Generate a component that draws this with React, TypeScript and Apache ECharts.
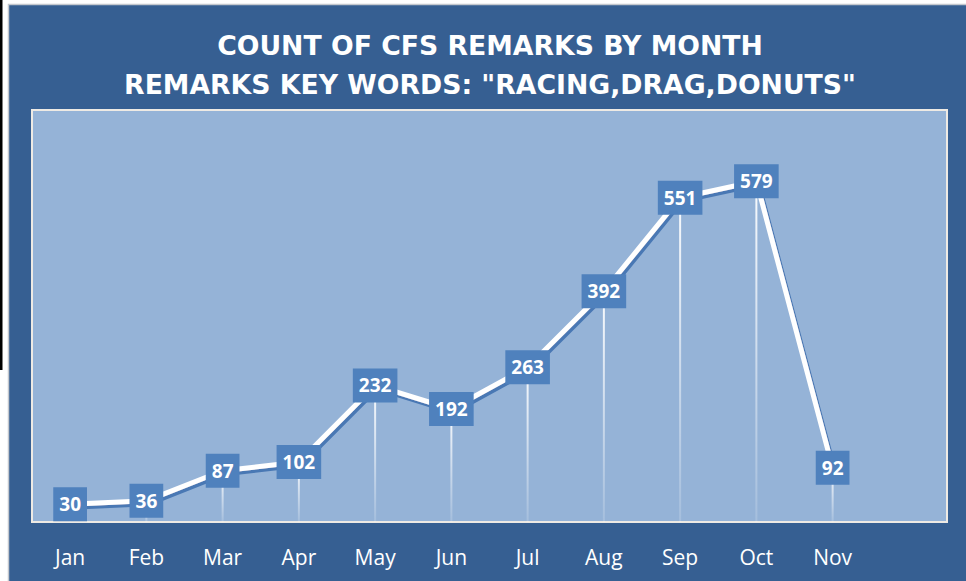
import React, { useEffect, useRef } from "react";
import * as echarts from "echarts";

const months = ["Jan", "Feb", "Mar", "Apr", "May", "Jun", "Jul", "Aug", "Sep", "Oct", "Nov", ""];
const counts = [30, 36, 87, 102, 232, 192, 263, 392, 551, 579, 92];
const titleLines = ["COUNT OF CFS REMARKS BY MONTH", 'REMARKS KEY WORDS: "RACING,DRAG,DONUTS"'];

export default function App() {
  const ref = useRef<HTMLDivElement>(null);
  useEffect(() => {
    if (!ref.current) return;
    const chart = echarts.init(ref.current, null, { renderer: "svg" });
    const font = "'Open Sans', 'Noto Sans', sans-serif";
    chart.setOption({
      animation: false,
      backgroundColor: "#ffffff",
      graphic: [
        { type: "rect", z: -100, shape: { x: 0, y: 0, width: 2.5, height: 370 }, style: { fill: "#000000" } },
        {
          type: "rect",
          z: -100,
          shape: { x: 8.5, y: 4.5, width: 980, height: 600 },
          style: { fill: "#365F92", stroke: "#C4C8CE", lineWidth: 1.5 },
        },
      ],
      title: {
        text: titleLines.join("\n"),
        left: 485,
        top: 21,
        textAlign: "center",
        textStyle: {
          color: "#ffffff",
          fontFamily: "'DejaVu Sans', sans-serif",
          fontWeight: "bold",
          fontSize: 26.7,
          lineHeight: 39,
        },
      },
      grid: {
        left: 32,
        right: 19,
        top: 110,
        bottom: 59,
        show: true,
        backgroundColor: "#95B3D7",
        borderColor: "#EEEAE4",
        borderWidth: 2,
      },
      xAxis: {
        type: "category",
        data: months,
        boundaryGap: true,
        axisLine: { show: false },
        axisTick: { show: false },
        axisLabel: { color: "#ffffff", fontFamily: font, fontSize: 21, margin: 24 },
        splitLine: { show: false },
      },
      yAxis: {
        type: "value",
        min: 0,
        max: 700,
        show: false,
        splitLine: { show: false },
      },
      series: [
        {
          type: "bar",
          data: counts,
          barWidth: 2,
          z: 1,
          itemStyle: {
            color: new echarts.graphic.LinearGradient(0, 0, 0, 1, [
              { offset: 0, color: "rgba(255,255,255,0.95)" },
              { offset: 1, color: "rgba(255,255,255,0.15)" },
            ]),
          },
        },
        {
          type: "line",
          data: counts,
          z: 5,
          symbol: "circle",
          symbolSize: 1,
          itemStyle: { color: "#ffffff" },
          lineStyle: {
            color: "#ffffff",
            width: 5,
            shadowColor: "#4A78B4",
            shadowOffsetX: 2,
            shadowOffsetY: 3,
            shadowBlur: 0,
          },
          label: {
            show: true,
            position: "inside",
            color: "#ffffff",
            fontFamily: font,
            fontWeight: "bold",
            fontSize: 19,
            lineHeight: 20,
            backgroundColor: "#4F81BD",
            padding: [8, 6, 6, 6],
          },
        },
      ],
    });
    return () => chart.dispose();
  }, []);
  return <div ref={ref} style={{ position: "absolute", left: 0, top: 0, width: 966, height: 581 }} />;
}
